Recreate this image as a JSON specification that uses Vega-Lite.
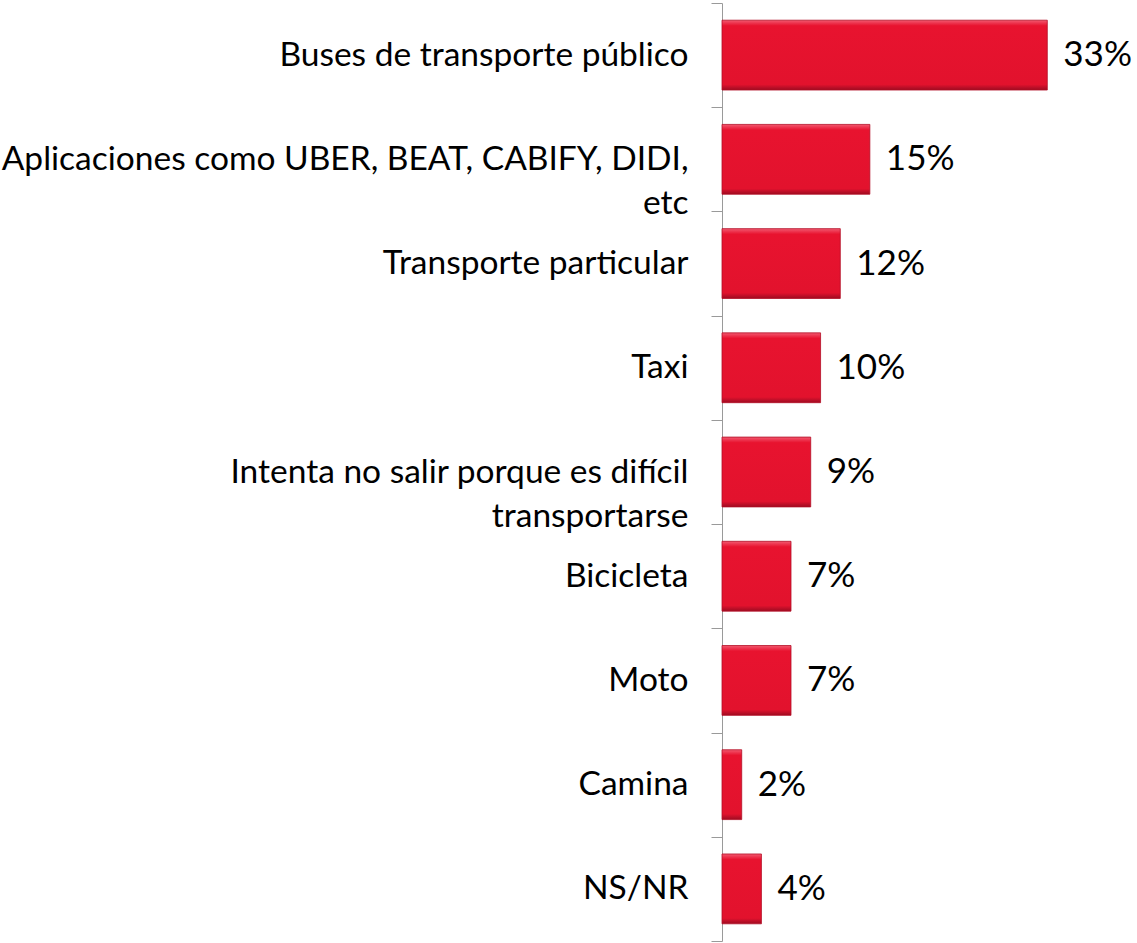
{
  "$schema": "https://vega.github.io/schema/vega-lite/v6.json",
  "autosize": {"type": "none"},
  "padding": {"left": 722, "top": 3, "right": 70, "bottom": 2},
  "width": 345,
  "height": 938,
  "background": "white",
  "config": {"view": {"stroke": null}},
  "data": {"values": [
    {"cat": "Buses de transporte público", "pct": 0.33},
    {"cat": "Aplicaciones como UBER, BEAT, CABIFY, DIDI,|etc", "pct": 0.15},
    {"cat": "Transporte particular", "pct": 0.12},
    {"cat": "Taxi", "pct": 0.10},
    {"cat": "Intenta no salir porque es difícil|transportarse", "pct": 0.09},
    {"cat": "Bicicleta", "pct": 0.07},
    {"cat": "Moto", "pct": 0.07},
    {"cat": "Camina", "pct": 0.02},
    {"cat": "NS/NR", "pct": 0.04}
  ]},
  "encoding": {
    "y": {"field": "cat", "type": "nominal", "sort": null,
      "scale": {"paddingInner": 0, "paddingOuter": 0},
      "axis": {"title": null, "tickBand": "extent", "domainColor": "#9a9a9a", "tickColor": "#9a9a9a",
        "tickSize": 11, "labelPadding": 23, "labelFont": "Lato", "labelFontSize": 33.5, "labelColor": "#000000",
        "labelLimit": 800, "labelLineHeight": 44,
        "labelExpr": "split(datum.label, '|')"}},
    "x": {"field": "pct", "type": "quantitative", "scale": {"domain": [0, 0.35], "nice": false}, "axis": null}
  },
  "layer": [
    {"mark": {"type": "bar", "height": {"band": 0.67},
      "fill": {"gradient": "linear", "x1": 0, "y1": 0, "x2": 0, "y2": 1,
        "stops": [
          {"offset": 0, "color": "#F25A70"},
          {"offset": 0.05, "color": "#EC2C47"},
          {"offset": 0.08, "color": "#E8132F"},
          {"offset": 0.92, "color": "#E2122D"},
          {"offset": 0.96, "color": "#BF0F28"},
          {"offset": 1, "color": "#9E0B20"}
        ]},
      "stroke": "#B30E26", "strokeWidth": 0.8}},
    {"mark": {"type": "text", "align": "left", "baseline": "middle", "dx": 16, "font": "Lato", "fontSize": 35, "color": "#000000"},
     "encoding": {"text": {"field": "pct", "type": "quantitative", "format": ".0%"}}}
  ]
}
